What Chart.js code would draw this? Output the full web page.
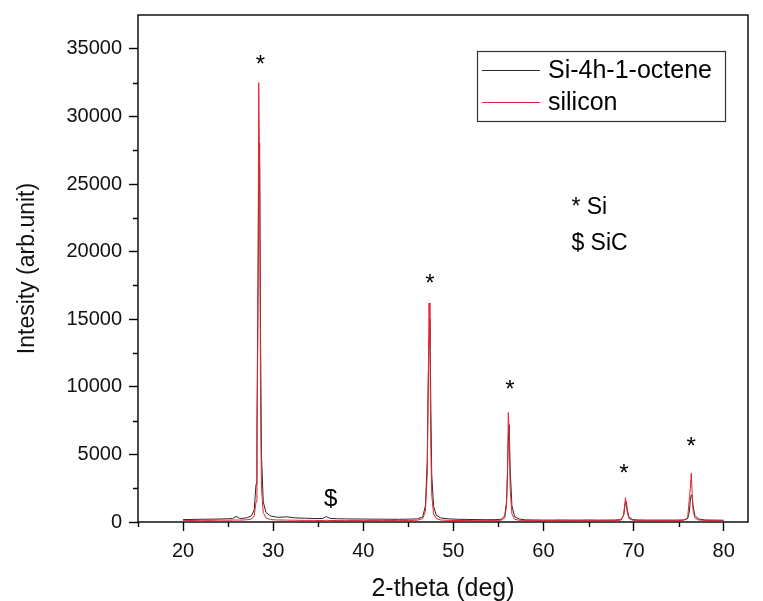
<!DOCTYPE html>
<html>
<head>
<meta charset="utf-8">
<script src="https://cdn.jsdelivr.net/npm/chart.js@4.4.1/dist/chart.umd.min.js"></script>
<style>
  html, body { margin: 0; padding: 0; background: #fff; }
  #wrap { width: 763px; height: 601px; }
</style>
</head>
<body>
<div id="wrap"><canvas id="xrd" width="763" height="601"></canvas></div>
<script>
// 2-theta sample positions (deg), shared by both patterns
const theta = [
  20, 21, 22, 23, 24, 25, 25.5, 25.9, 26.3, 27,
  27.6, 27.9, 28.1, 28.2, 28.3, 28.4, 28.5, 28.6, 28.7, 28.9,
  29.2, 29.7, 30.5, 31.5, 32.5, 33.5, 34.5, 35.5, 35.9, 36.3,
  37, 38, 39, 40, 41, 42, 43, 44, 45, 46,
  46.6, 46.9, 47.1, 47.2, 47.3, 47.4, 47.5, 47.6, 47.8, 48.1,
  48.6, 49.5, 50.5, 51.5, 52.5, 53.5, 54.5, 55.3, 55.7, 55.9,
  56.0, 56.1, 56.2, 56.3, 56.5, 56.8, 57.3, 58, 59, 60,
  61, 62, 63, 64, 65, 66, 67, 68, 68.6, 68.9,
  69.0, 69.1, 69.2, 69.3, 69.5, 69.9, 70.5, 71.5, 72.5, 73.5,
  74.5, 75.5, 76.0, 76.2, 76.3, 76.4, 76.5, 76.6, 76.8, 77.2,
  78, 79, 80
];

// Si-4h-1-octene (black)
const octene = [
  180, 190, 200, 210, 220, 240, 250, 420, 260, 300,
  450, 900, 2800, 7000, 16000, 25000, 28000, 14000, 5000, 1500,
  700, 450, 350, 380, 300, 280, 260, 260, 400, 270,
  240, 230, 220, 220, 210, 210, 200, 200, 210, 230,
  380, 1200, 4500, 10000, 13500, 15000, 8500, 3500, 1200, 500,
  300, 230, 200, 190, 180, 170, 170, 200, 450, 1500,
  3500, 6000, 7200, 4000, 1200, 400, 220, 160, 150, 140,
  140, 150, 140, 140, 150, 140, 140, 150, 170, 500,
  1000, 1400, 1500, 900, 350, 180, 150, 140, 140, 140,
  140, 150, 250, 800, 1600, 2000, 1900, 1200, 500, 220,
  150, 140, 130
];

// silicon (red)
const silicon = [
  120, 110, 130, 120, 140, 130, 140, 150, 140, 160,
  220, 450, 1500, 4500, 14000, 32500, 26000, 9000, 2500, 700,
  300, 180, 150, 140, 130, 120, 120, 110, 130, 110,
  110, 100, 110, 100, 110, 100, 110, 100, 110, 130,
  250, 800, 3500, 9000, 16200, 13000, 5500, 2000, 600, 250,
  150, 120, 110, 110, 100, 100, 110, 130, 300, 1200,
  3500, 8100, 6500, 2500, 600, 200, 130, 110, 100, 100,
  110, 100, 100, 110, 100, 100, 110, 100, 140, 500,
  1200, 1800, 1300, 700, 250, 130, 110, 100, 100, 110,
  100, 110, 300, 1800, 2500, 3600, 2200, 900, 300, 150,
  110, 100, 100
];

const xTicks = [20, 30, 40, 50, 60, 70, 80];
const xMinor = [15, 25, 35, 45, 55, 65, 75];
const yTicks = [0, 5000, 10000, 15000, 20000, 25000, 30000, 35000];
const yMinor = [2500, 7500, 12500, 17500, 22500, 27500, 32500];

const seriesNames = ['Si-4h-1-octene', 'silicon'];
const seriesColors = ['#2a2a2a', '#e32630'];

// peak markers (2-theta, intensity, symbol)
const markX = [28.6, 47.41, 56.29, 68.94, 76.38, 36.37];
const markY = [33765, 17600, 9730, 3550, 5510, 1660];
const markText = ['*', '*', '*', '*', '*', '$'];

// phase key
const keyX = 63.1;
const keyY = [23225, 20560];
const keyText = ['* Si', '$ SiC'];

const toPts = ys => theta.map((t, i) => ({ x: t, y: ys[i] }));

const FONT = '"Liberation Sans", Arial, sans-serif';

const decorations = {
  id: 'decorations',
  afterDraw(chart) {
    const { ctx, chartArea: a, scales: { x, y } } = chart;
    ctx.save();
    // frame
    ctx.strokeStyle = '#000';
    ctx.lineWidth = 1.4;
    ctx.strokeRect(a.left, a.top, a.right - a.left, a.bottom - a.top);
    // minor ticks
    ctx.beginPath();
    xMinor.forEach(v => {
      const px = Math.round(x.getPixelForValue(v)) + 0.5;
      ctx.moveTo(px, a.bottom); ctx.lineTo(px, a.bottom + 5);
    });
    yMinor.forEach(v => {
      const py = Math.round(y.getPixelForValue(v)) + 0.5;
      ctx.moveTo(a.left, py); ctx.lineTo(a.left - 5, py);
    });
    ctx.stroke();

    // peak markers
    ctx.fillStyle = '#000';
    ctx.textAlign = 'center';
    ctx.textBaseline = 'middle';
    markText.forEach((t, i) => {
      ctx.font = '24px ' + FONT;
      ctx.fillText(t, x.getPixelForValue(markX[i]), y.getPixelForValue(markY[i]));
    });

    // phase key
    ctx.textAlign = 'left';
    ctx.font = '23px ' + FONT;
    keyText.forEach((t, i) => {
      ctx.fillText(t, x.getPixelForValue(keyX), y.getPixelForValue(keyY[i]));
    });

    // legend box
    const lx = 477, ly = 51, lw = 248, lh = 70;
    ctx.lineWidth = 1.2;
    ctx.strokeStyle = '#333';
    ctx.fillStyle = '#fff';
    ctx.fillRect(lx, ly, lw, lh);
    ctx.strokeRect(lx + 0.5, ly + 0.5, lw, lh);
    ctx.font = '25px ' + FONT;
    seriesNames.forEach((n, i) => {
      const ry = ly + 19 + i * 32;
      ctx.strokeStyle = seriesColors[i];
      ctx.lineWidth = 1;
      ctx.beginPath();
      ctx.moveTo(lx + 5, ry + 0.5); ctx.lineTo(lx + 63, ry + 0.5);
      ctx.stroke();
      ctx.fillStyle = '#000';
      ctx.fillText(n, lx + 71, ry + 1);
    });
    ctx.restore();
  }
};

new Chart(document.getElementById('xrd'), {
  type: 'line',
  data: {
    datasets: seriesNames.map((n, i) => ({
      label: n,
      data: toPts(i === 0 ? octene : silicon),
      borderColor: seriesColors[i],
      borderWidth: 1,
      pointRadius: 0,
      tension: 0,
      order: i === 0 ? 1 : 0
    }))
  },
  options: {
    responsive: false,
    animation: false,
    layout: { padding: { left: 0, top: 15, right: 15, bottom: 0 } },
    plugins: { legend: { display: false }, tooltip: { enabled: false } },
    scales: {
      x: {
        type: 'linear',
        min: 15,
        max: 82.7,
        afterBuildTicks: s => { s.ticks = xTicks.map(v => ({ value: v })); },
        afterFit: s => { s.height = 79; s.paddingLeft = 0; s.paddingRight = 0; },
        grid: { drawOnChartArea: false, tickLength: 9, tickColor: '#000', tickWidth: 1.4 },
        border: { display: false },
        ticks: { color: '#111', font: { family: FONT, size: 20 }, padding: 8, maxRotation: 0 },
        title: { display: true, text: '2-theta (deg)', color: '#111', font: { family: FONT, size: 25 }, padding: { top: 0, bottom: -3 } }
      },
      y: {
        type: 'linear',
        min: 0,
        max: 37500,
        afterBuildTicks: s => { s.ticks = yTicks.map(v => ({ value: v })); },
        afterFit: s => { s.width = 138; s.paddingTop = 0; s.paddingBottom = 0; },
        grid: { drawOnChartArea: false, tickLength: 9, tickColor: '#000', tickWidth: 1.4 },
        border: { display: false },
        ticks: { color: '#111', font: { family: FONT, size: 20 }, padding: 7, callback: v => String(v) },
        title: { display: true, text: 'Intesity (arb.unit)', color: '#111', font: { family: FONT, size: 23 }, padding: { top: 14, bottom: 0 } }
      }
    }
  },
  plugins: [decorations]
});
</script>
</body>
</html>
